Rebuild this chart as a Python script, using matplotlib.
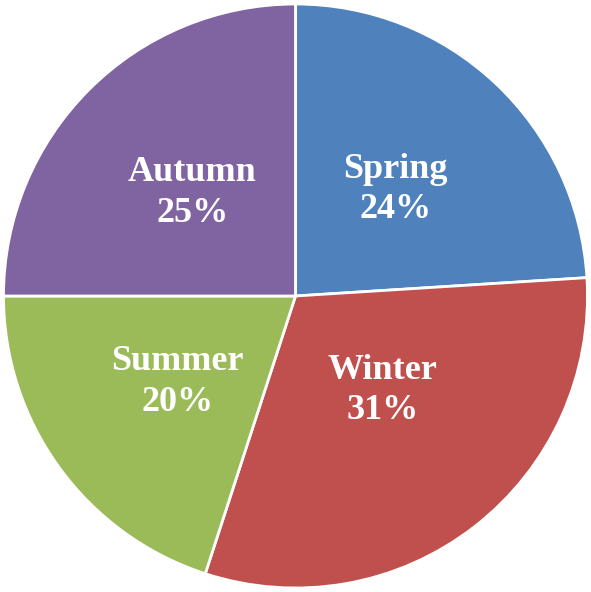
import matplotlib.pyplot as plt
import numpy as np

seasons = ["Spring", "Winter", "Summer", "Autumn"]
shares = [24, 31, 20, 25]
colors = ["#4F81BD", "#C0504D", "#9BBB59", "#8064A2"]


def main() -> None:
    fig = plt.figure(figsize=(5.91, 5.92), dpi=100)
    ax = fig.add_axes([0, 0, 1, 1])

    wedges, texts = ax.pie(
        shares,
        colors=colors,
        startangle=90,
        counterclock=False,
        radius=1.0,
        wedgeprops={"edgecolor": "white", "linewidth": 2},
    )

    # label distance from centre, Winter sits a bit further in
    dist = [0.5, 0.44, 0.5, 0.5]
    for w, name, pct, d in zip(wedges, seasons, shares, dist):
        ang = np.deg2rad((w.theta1 + w.theta2) / 2)
        if name == "Winter":
            ang += np.deg2rad(5)
        x, y = d * np.cos(ang), d * np.sin(ang)
        ax.text(
            x, y, f"{name}\n{pct}%",
            ha="center", va="center", color="white",
            fontsize=26, fontweight="bold", family="Liberation Serif",
            linespacing=1.3,
        )

    ax.set_xlim(-1.012, 1.012)
    ax.set_ylim(-1.012, 1.012)
    ax.set_aspect("equal")
    ax.axis("off")

    fig.savefig("out.png", dpi=100)
    plt.close(fig)


if __name__ == "__main__":
    main()
